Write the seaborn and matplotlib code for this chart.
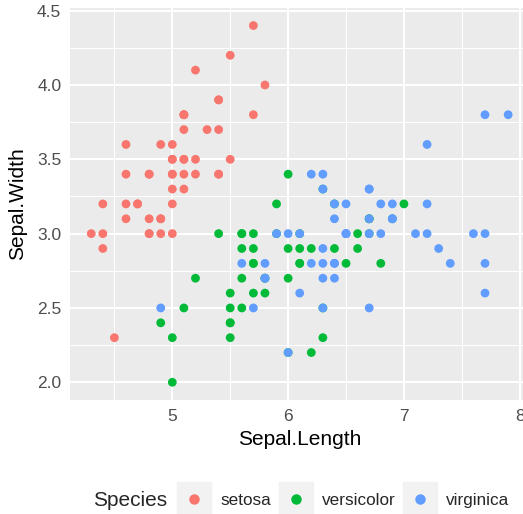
import matplotlib
matplotlib.use("Agg")
import matplotlib.pyplot as plt
from matplotlib.lines import Line2D
from matplotlib.legend_handler import HandlerTuple
import pandas as pd
import seaborn as sns

# iris: Sepal.Length / Sepal.Width por especie
setosa_length = [5.1, 4.9, 4.7, 4.6, 5.0, 5.4, 4.6, 5.0, 4.4, 4.9, 5.4, 4.8, 4.8, 4.3, 5.8, 5.7, 5.4,
                 5.1, 5.7, 5.1, 5.4, 5.1, 4.6, 5.1, 4.8, 5.0, 5.0, 5.2, 5.2, 4.7, 4.8, 5.4, 5.2, 5.5,
                 4.9, 5.0, 5.5, 4.9, 4.4, 5.1, 5.0, 4.5, 4.4, 5.0, 5.1, 4.8, 5.1, 4.6, 5.3, 5.0]
setosa_width = [3.5, 3.0, 3.2, 3.1, 3.6, 3.9, 3.4, 3.4, 2.9, 3.1, 3.7, 3.4, 3.0, 3.0, 4.0, 4.4, 3.9,
                3.5, 3.8, 3.8, 3.4, 3.7, 3.6, 3.3, 3.4, 3.0, 3.4, 3.5, 3.4, 3.2, 3.1, 3.4, 4.1, 4.2,
                3.1, 3.2, 3.5, 3.6, 3.0, 3.4, 3.5, 2.3, 3.2, 3.5, 3.8, 3.0, 3.8, 3.2, 3.7, 3.3]
versicolor_length = [7.0, 6.4, 6.9, 5.5, 6.5, 5.7, 6.3, 4.9, 6.6, 5.2, 5.0, 5.9, 6.0, 6.1, 5.6, 6.7, 5.6,
                     5.8, 6.2, 5.6, 5.9, 6.1, 6.3, 6.1, 6.4, 6.6, 6.8, 6.7, 6.0, 5.7, 5.5, 5.5, 5.8, 6.0,
                     5.4, 6.0, 6.7, 6.3, 5.6, 5.5, 5.5, 6.1, 5.8, 5.0, 5.6, 5.7, 5.7, 6.2, 5.1, 5.7]
versicolor_width = [3.2, 3.2, 3.1, 2.3, 2.8, 2.8, 3.3, 2.4, 2.9, 2.7, 2.0, 3.0, 2.2, 2.9, 2.9, 3.1, 3.0,
                    2.7, 2.2, 2.5, 3.2, 2.8, 2.5, 2.8, 2.9, 3.0, 2.8, 3.0, 2.9, 2.6, 2.4, 2.4, 2.7, 2.7,
                    3.0, 3.4, 3.1, 2.3, 3.0, 2.5, 2.6, 3.0, 2.6, 2.3, 2.7, 3.0, 2.9, 2.9, 2.5, 2.8]
virginica_length = [6.3, 5.8, 7.1, 6.3, 6.5, 7.6, 4.9, 7.3, 6.7, 7.2, 6.5, 6.4, 6.8, 5.7, 5.8, 6.4, 6.5,
                    7.7, 7.7, 6.0, 6.9, 5.6, 7.7, 6.3, 6.7, 7.2, 6.2, 6.1, 6.4, 7.2, 7.4, 7.9, 6.4, 6.3,
                    6.1, 7.7, 6.3, 6.4, 6.0, 6.9, 6.7, 6.9, 5.8, 6.8, 6.7, 6.7, 6.3, 6.5, 6.2, 5.9]
virginica_width = [3.3, 2.7, 3.0, 2.9, 3.0, 3.0, 2.5, 2.9, 2.5, 3.6, 3.2, 2.7, 3.0, 2.5, 2.8, 3.2, 3.0,
                   3.8, 2.6, 2.2, 3.2, 2.8, 2.8, 2.7, 3.3, 3.2, 2.8, 3.0, 2.8, 3.0, 2.8, 3.8, 2.8, 2.8,
                   2.6, 3.0, 3.4, 3.1, 3.0, 3.1, 3.1, 3.1, 2.7, 3.2, 3.3, 3.0, 2.5, 3.0, 3.4, 3.0]

species = ["setosa", "versicolor", "virginica"]
colors = ["#F8766D", "#00BA38", "#619CFF"]

iris = pd.concat([
    pd.DataFrame({"Sepal.Length": setosa_length, "Sepal.Width": setosa_width, "Species": "setosa"}),
    pd.DataFrame({"Sepal.Length": versicolor_length, "Sepal.Width": versicolor_width, "Species": "versicolor"}),
    pd.DataFrame({"Sepal.Length": virginica_length, "Sepal.Width": virginica_width, "Species": "virginica"}),
], ignore_index=True)

sns.set_style("darkgrid", {"axes.facecolor": "#EBEBEB", "grid.color": "white"})
plt.rcParams["font.family"] = ["Liberation Sans", "DejaVu Sans"]

fig = plt.figure(figsize=(5.23, 5.14), dpi=100)
ax = fig.add_axes([0.1346, 0.2216, 0.8769, 0.7634])

sns.scatterplot(data=iris, x="Sepal.Length", y="Sepal.Width", hue="Species",
                hue_order=species, palette=colors, s=40, linewidth=0,
                legend=False, ax=ax, zorder=3)

ax.set_xlim(4.12, 8.08)
ax.set_ylim(1.88, 4.52)
ax.set_xticks([5, 6, 7, 8])
ax.set_yticks([2.0, 2.5, 3.0, 3.5, 4.0, 4.5])
ax.set_yticklabels(["2.0", "2.5", "3.0", "3.5", "4.0", "4.5"])
ax.set_xticks([4.5, 5.5, 6.5, 7.5], minor=True)
ax.set_yticks([2.25, 2.75, 3.25, 3.75, 4.25], minor=True)
ax.grid(which="major", color="white", linewidth=1.5)
ax.grid(which="minor", color="white", linewidth=0.75)
ax.set_axisbelow(True)
for s in ax.spines.values():
    s.set_visible(False)

ax.tick_params(which="major", length=3.5, width=1.0, color="#333333",
               labelsize=12.5, labelcolor="#4D4D4D", pad=3)
ax.tick_params(which="minor", length=0)
ax.set_xlabel("Sepal.Length", fontsize=15, color="black", labelpad=4)
ax.set_ylabel("Sepal.Width", fontsize=15, color="black", labelpad=7)

# leyenda abajo, estilo ggplot
handles = [(Line2D([], [], marker="s", ls="", markersize=24, color="#F2F2F2"),
            Line2D([], [], marker="o", ls="", markersize=6.5, color=c)) for c in colors]
fig.text(0.178, 0.027, "Species", fontsize=15, va="center", ha="left")
fig.legend(handles, species, handler_map={tuple: HandlerTuple(ndivide=1)},
           loc="center left", bbox_to_anchor=(0.344, 0.027), ncol=3, frameon=False,
           fontsize=12.3, handlelength=1.7, handletextpad=0.7, columnspacing=0.55,
           borderaxespad=0, borderpad=0)

plt.savefig("out.png", dpi=100)
